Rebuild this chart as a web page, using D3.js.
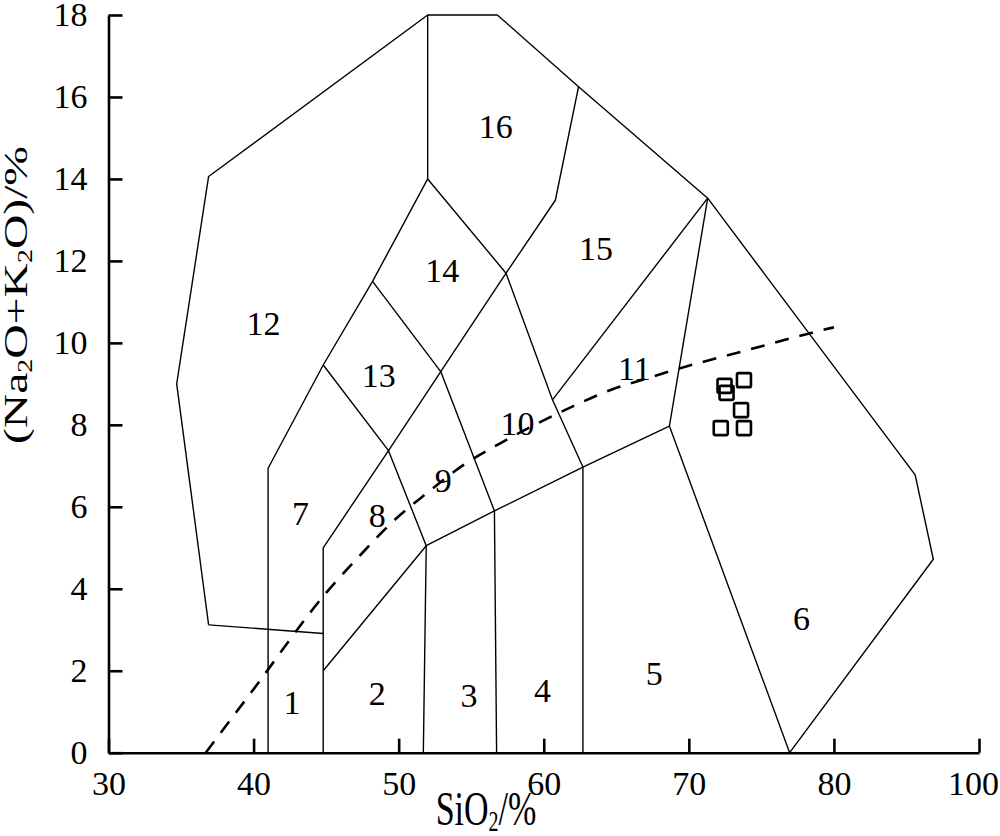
<!DOCTYPE html>
<html><head><meta charset="utf-8">
<script src="https://cdn.jsdelivr.net/npm/d3@7"></script>
<style>
body{margin:0;background:#fff}
svg{display:block}
text{font-family:"Liberation Serif","Times New Roman",serif;fill:#000}
</style>
</head><body>
<svg id="c" width="1000" height="836"></svg>
<script>
// ---- data ----
const xTickValues = [30, 40, 50, 60, 70, 80, 90];
const xTickLabels = ["30", "40", "50", "60", "70", "80", "100"];
const yTickValues = [0, 2, 4, 6, 8, 10, 12, 14, 16, 18];
const yTickLabels = ["0", "2", "4", "6", "8", "10", "12", "14", "16", "18"];

// field boundary polylines [SiO2, Na2O+K2O]
const outerBoundary = [[36.9,3.12],[34.7,9.0],[36.9,14.06],[52.0,18],[56.8,18],[62.4,16.25],[71.3,13.53],[85.6,6.78],[86.85,4.72],[76.95,0]];
const line12_16 = [[52,18],[52,14]];
const line12_7 = [[52,14],[48.2,11.5],[44.8,9.46],[41,6.94],[41,0]];
const line14_16 = [[52,14],[57.4,11.7],[60.8,13.48],[62.4,16.25]];
const line15_11 = [[71.3,13.53],[60.6,8.61]];
const line10_11 = [[57.4,11.7],[60.6,8.61],[62.7,6.97],[62.7,0]];
const line11_6 = [[71.3,13.53],[68.66,7.97],[76.95,0]];
const lineSub = [[51.9,5.05],[56.6,5.9],[62.7,6.97],[68.66,7.97]];
const line13_14 = [[48.2,11.5],[52.9,9.3],[56.6,5.9],[56.75,0]];
const line7_8 = [[44.8,9.46],[49.3,7.37],[51.9,5.05],[51.7,0]];
const line8_9 = [[57.4,11.7],[52.9,9.3],[49.3,7.37],[44.8,5.0],[44.8,0]];
const line1_2 = [[51.9,5.05],[44.8,2.0]];
const line12_1 = [[36.9,3.12],[44.8,2.91]];
const fieldBoundaries = [outerBoundary, line12_16, line12_7, line14_16, line15_11, line10_11, line11_6, lineSub, line13_14, line7_8, line8_9, line1_2, line12_1];

// alkaline / subalkaline dividing line
const dividingSiO2   = [36.7, 40, 45, 47.3, 49.6, 52, 54.3, 57, 59.6, 62, 64.6, 67, 69.4, 74, 78.3, 80];
const dividingAlkali = [0, 1.55, 3.9, 4.8, 5.64, 6.35, 6.98, 7.55, 8.04, 8.45, 8.85, 9.12, 9.38, 9.82, 10.23, 10.38];

// field numbers and their positions
const fieldNames  = ["1","2","3","4","5","6","7","8","9","10","11","12","13","14","15","16"];
const fieldLabelX = [42.65,48.52,54.85,59.92,67.62,77.76,43.23,48.52,53.08,58.19,66.24,40.69,48.63,53.01,63.6,56.69];
const fieldLabelY = [1.24,1.46,1.41,1.53,1.94,3.28,5.84,5.8,6.65,8.04,9.38,10.48,9.22,11.78,12.31,15.28];

// samples
const sampleSiO2   = [72.46, 72.6, 73.8, 73.6, 72.2, 73.8];
const sampleAlkali = [8.95, 8.78, 9.09, 8.36, 7.92, 7.92];

// ---- drawing ----
const svg = d3.select("#c");
const x = d3.scaleLinear().domain([30, 90]).range([108.5, 979]);
const y = d3.scaleLinear().domain([0, 18]).range([752.7, 15]);

const line = d3.line().x(d => x(d[0])).y(d => y(d[1]));

svg.append("g").selectAll("path").data(fieldBoundaries).join("path")
  .attr("d", line).attr("fill", "none").attr("stroke", "#000")
  .attr("stroke-width", 1.4).attr("stroke-linejoin", "round");

const divPts = dividingSiO2.map((v, i) => [v, dividingAlkali[i]]);
svg.append("path").datum(divPts)
  .attr("d", d3.line().x(d => x(d[0])).y(d => y(d[1])).curve(d3.curveMonotoneX))
  .attr("fill", "none").attr("stroke", "#000").attr("stroke-width", 2.6)
  .attr("stroke-dasharray", "14,11");

// field labels
svg.append("g").selectAll("text").data(fieldNames).join("text")
  .attr("x", (d, i) => x(fieldLabelX[i]))
  .attr("y", (d, i) => y(fieldLabelY[i]))
  .attr("dy", "0.35em").attr("text-anchor", "middle")
  .attr("font-size", 34).text(d => d);

// samples
const sq = 14;
svg.append("g").selectAll("rect").data(sampleSiO2).join("rect")
  .attr("x", (d) => x(d) - sq / 2)
  .attr("y", (d, i) => y(sampleAlkali[i]) - sq / 2)
  .attr("width", sq).attr("height", sq).attr("rx", 1.5)
  .attr("fill", "none").attr("stroke", "#000").attr("stroke-width", 2.6);

// axes
const xAxis = d3.axisBottom(x).tickValues(xTickValues)
  .tickFormat((d, i) => xTickLabels[i]).tickSizeInner(-14).tickSizeOuter(0).tickPadding(18);
const gx = svg.append("g").attr("transform", `translate(0,${y(0)})`).call(xAxis);
gx.select(".domain").attr("stroke-width", 2.6);
gx.selectAll(".tick line").attr("stroke-width", 2.6);
gx.selectAll(".tick text").attr("font-size", 34).attr("font-family", '"Liberation Serif",serif')
  .attr("dx", (d, i) => i === xTickValues.length - 1 ? -6 : 0);

const yAxis = d3.axisLeft(y).tickValues(yTickValues)
  .tickFormat((d, i) => yTickLabels[i]).tickSizeInner(-14).tickSizeOuter(0).tickPadding(21);
const gy = svg.append("g").attr("transform", `translate(${x(30)},0)`).call(yAxis);
gy.select(".domain").attr("stroke-width", 2.6);
gy.selectAll(".tick line").attr("stroke-width", 2.6);
gy.selectAll(".tick text").attr("font-size", 34).attr("font-family", '"Liberation Serif",serif');

// axis titles
const xt = svg.append("text").attr("transform", "translate(486,825) scale(1,1.42)")
  .attr("text-anchor", "middle").attr("font-size", 34);
xt.append("tspan").text("SiO");
xt.append("tspan").attr("font-size", 20).attr("dy", 4).text("2");
xt.append("tspan").attr("dy", -4).text("/%");

const yt = svg.append("text").attr("transform", "translate(27,295) rotate(-90) scale(1.4,1)")
  .attr("text-anchor", "middle").attr("font-size", 34);
yt.append("tspan").text("(Na");
yt.append("tspan").attr("font-size", 20).attr("dy", 5).text("2");
yt.append("tspan").attr("dy", -5).text("O+K");
yt.append("tspan").attr("font-size", 20).attr("dy", 5).text("2");
yt.append("tspan").attr("dy", -5).text("O)/%");
</script>
</body></html>
